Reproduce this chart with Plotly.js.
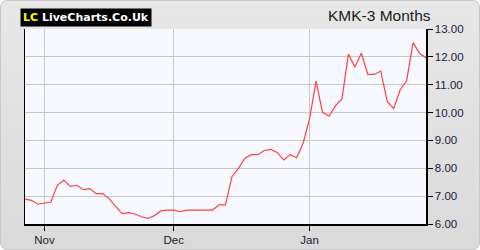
<!DOCTYPE html>
<html>
<head>
<meta charset="utf-8">
<script src="https://cdn.plot.ly/plotly-3.0.1.min.js"></script>
<style>
html,body{margin:0;padding:0;background:#ffffff;}
#frame{position:absolute;left:0;top:0;width:478px;height:248px;border:1px solid #c8c8c8;border-radius:7px;background:linear-gradient(#e8e8e8,#dadada);overflow:hidden;}
#chart{position:absolute;left:-1px;top:-1px;width:480px;height:250px;}
</style>
</head>
<body>
<div id="frame"><div id="chart"></div></div>
<script>
// Trading-day index and closing prices (3 months)
const dayIndex = Array.from({length: 63}, (_, i) => i);
const prices = [
  6.89, 6.85, 6.71, 6.75, 6.79, 7.39, 7.58, 7.35, 7.39, 7.23,
  7.27, 7.09, 7.09, 6.91, 6.65, 6.37, 6.41, 6.36, 6.26, 6.20,
  6.30, 6.47, 6.50, 6.50, 6.44, 6.50, 6.50, 6.50, 6.50, 6.50,
  6.69, 6.69, 7.70, 8.00, 8.36, 8.49, 8.49, 8.64, 8.68, 8.57,
  8.30, 8.49, 8.38, 8.90, 9.77, 11.13, 10.01, 9.87, 10.25, 10.49,
  12.10, 11.64, 12.13, 11.37, 11.37, 11.49, 10.40, 10.14, 10.81, 11.14,
  12.51, 12.13, 11.97
];
const monthTickPos = [3, 23, 44];
const monthTickText = ['Nov', 'Dec', 'Jan'];
const yTicks = [6, 7, 8, 9, 10, 11, 12, 13];
const chartTitle = 'KMK-3 Months';

const trace = {
  x: dayIndex, y: prices, type: 'scatter', mode: 'lines',
  line: {color: '#ff4040', width: 1.2}, hoverinfo: 'skip'
};

const layout = {
  width: 480, height: 250,
  margin: {l: 25, r: 54, t: 29, b: 26, pad: 0},
  paper_bgcolor: 'rgba(0,0,0,0)',
  plot_bgcolor: '#f8f9ff',
  showlegend: false,
  xaxis: {
    range: [0, 62], tickvals: monthTickPos, ticktext: monthTickText,
    showgrid: true, gridcolor: '#c8c8c8', gridwidth: 1,
    showline: true, linecolor: '#000000', linewidth: 1.5,
    ticks: 'outside', ticklen: 5, tickcolor: '#000000',
    tickfont: {family: 'Liberation Sans, Arial, sans-serif', size: 11.5, color: '#1a1a2e'},
    zeroline: false, fixedrange: true
  },
  yaxis: {
    side: 'right', range: [6, 13], tickvals: yTicks, tickformat: '.2f',
    showgrid: true, gridcolor: '#c8c8c8', gridwidth: 1,
    showline: true, mirror: true, linecolor: '#000000', linewidth: 1.5,
    ticks: 'outside', ticklen: 5, tickcolor: '#000000',
    tickfont: {family: 'Liberation Sans, Arial, sans-serif', size: 11.5, color: '#1a1a3a'},
    zeroline: false, fixedrange: true
  },
  annotations: [
    {
      xref: 'paper', yref: 'paper', x: -0.0125, y: 1.108, xanchor: 'left', yanchor: 'top',
      text: '<b><span style="color:#ffff00">LC</span> LiveCharts.Co.Uk</b>',
      showarrow: false, bgcolor: '#000000', borderpad: 2,
      font: {family: 'DejaVu Sans, Verdana, sans-serif', size: 11, color: '#ffffff'}
    },
    {
      xref: 'paper', yref: 'paper', x: 1.0175, y: 1.067, xanchor: 'right', yanchor: 'middle',
      text: chartTitle, showarrow: false,
      font: {family: 'Liberation Sans, Arial, sans-serif', size: 15.5, color: '#1a1a1a'}
    }
  ]
};

Plotly.newPlot('chart', [trace], layout, {displayModeBar: false, staticPlot: true});
</script>
</body>
</html>
